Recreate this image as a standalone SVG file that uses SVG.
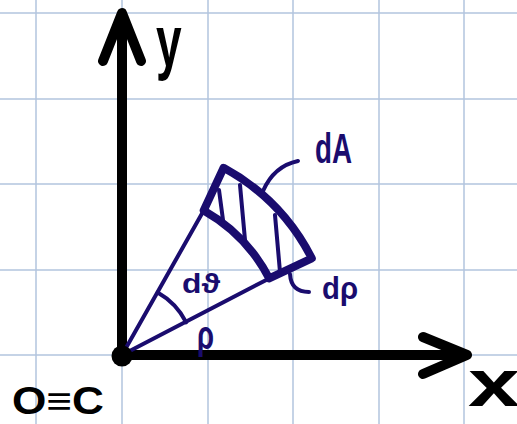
<svg xmlns="http://www.w3.org/2000/svg" width="517" height="424" viewBox="0 0 517 424">
<style>
.grid{stroke:#b3c5de;stroke-width:1.5;fill:none}
.axis{stroke:#000;stroke-width:10;fill:none;stroke-linecap:round;stroke-linejoin:round}
.thick{stroke:#1a0c6e;stroke-width:8;fill:none;stroke-linecap:round;stroke-linejoin:round}
.thin{stroke:#1a0c6e;stroke-width:4;fill:none;stroke-linecap:round;stroke-linejoin:round}
.lbl{font-family:"Liberation Sans",Arial,sans-serif;font-weight:bold;fill:#1a0c6e}
.blk{font-family:"Liberation Sans",Arial,sans-serif;font-weight:bold;fill:#000}
</style>
<rect width="517" height="424" fill="#fff"/>
<g id="grid" class="grid">
<path d="M36,0V424M122,0V424M208,0V424M293,0V424M379,0V424M464,0V424"/>
<path d="M0,13H517M0,99H517M0,184H517M0,270H517M0,355H517"/>
</g>
<g id="connectors">
<path class="axis" d="M122,355V14M103,61L122,13L141,61"/>
<path class="axis" d="M122,355H466M423,337L467,355L423,374"/>
<path class="thin" d="M122,355L203.7,210.5M122,355L269.2,278.4"/>
<path class="thin" d="M157.7,292.5A72,72 0 0 1 186.2,322.3"/>
<path class="thin" d="M263,191Q274,166 298,161"/>
<path class="thin" d="M290,274Q291,292 309,292"/>
</g>
<g id="origin"><circle cx="122" cy="356" r="10.5" fill="#000"/></g>
<g id="element">
<path class="thick" d="M223.6,167.8A213,213 0 0 1 311.8,258.3L269.2,278.4A166,166 0 0 0 203.7,210.5Z"/>
<path class="thin" d="M219,190L223,220M240,185L245,240M275,215L280,272"/>
</g>
<g id="labels">
<text class="blk" transform="translate(156,66) scale(0.64,1)" font-size="72">y</text>
<text class="blk" x="468" y="406" font-size="66" textLength="52" lengthAdjust="spacingAndGlyphs">x</text>
<text class="blk" x="12" y="414" font-size="38" textLength="92" lengthAdjust="spacingAndGlyphs">O≡C</text>
<text class="lbl" x="315" y="163" font-size="42" textLength="37" lengthAdjust="spacingAndGlyphs">dA</text>
<text class="lbl" x="322" y="299" font-size="32" textLength="36" lengthAdjust="spacingAndGlyphs">dρ</text>
<text class="lbl" x="182" y="293" font-size="27" textLength="38" lengthAdjust="spacingAndGlyphs">dϑ</text>
<text class="lbl" x="197" y="349" font-size="40" textLength="17" lengthAdjust="spacingAndGlyphs">ρ</text>
</g>
</svg>
